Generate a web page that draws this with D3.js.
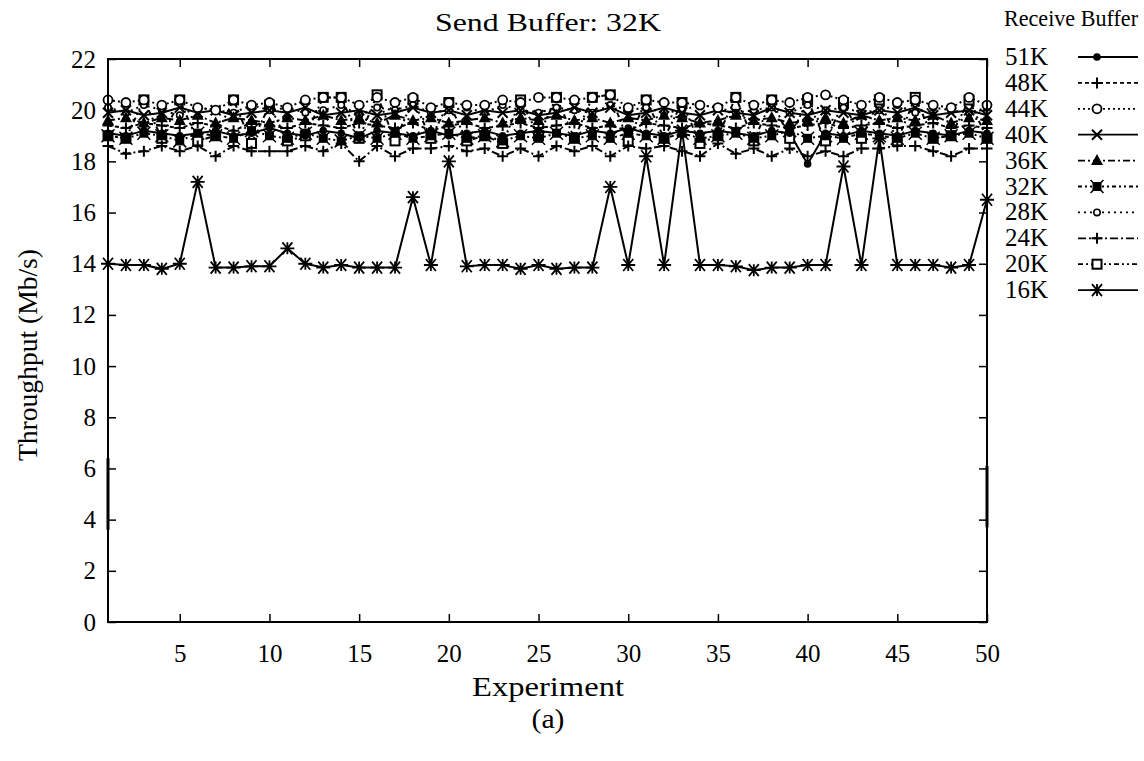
<!DOCTYPE html>
<html>
<head>
<meta charset="utf-8" />
<title>Send Buffer: 32K</title>
<script src="https://cdn.jsdelivr.net/npm/d3@7/dist/d3.min.js"></script>
<style>
    body { margin: 0; background: #fff; }
    svg text { font-family: "Liberation Serif", "DejaVu Serif", serif; fill: #000; }
    .axis path { display: none; }
    .axis line { stroke: #000; stroke-width: 1.5px; }
</style>
</head>
<body>
<div id="chart"></div>
<script>
// 数据
const experiments = [1,2,3,4,5,6,7,8,9,10,11,12,13,14,15,16,17,18,19,20,21,22,23,24,25,
                     26,27,28,29,30,31,32,33,34,35,36,37,38,39,40,41,42,43,44,45,46,47,48,49,50];
const xTicks = [5,10,15,20,25,30,35,40,45,50];
const yTicks = [0,2,4,6,8,10,12,14,16,18,20,22];
const bufferNames = ["51K","48K","44K","40K","36K","32K","28K","24K","20K","16K"];

const buf51 = [19.1,19.0,19.2,19.1,19.0,19.1,19.2,19.0,19.1,19.3,19.1,19.0,19.2,19.1,18.9,19.2,19.1,19.0,19.2,19.0,
               19.1,19.2,19.0,19.1,19.2,19.1,19.0,19.2,19.1,19.3,19.1,19.0,19.2,19.1,19.2,19.1,19.0,19.2,19.1,17.9,
               19.1,19.0,19.2,19.1,19.0,19.2,19.1,19.0,19.2,19.1];
const buf48 = [19.4,19.3,19.5,19.4,19.3,19.5,19.4,19.2,19.5,19.4,19.3,19.5,19.4,19.3,19.5,19.4,19.3,19.5,19.2,19.4,
               19.5,19.3,19.4,19.5,19.3,19.4,19.5,19.3,19.4,19.2,19.5,19.4,19.3,19.5,19.4,19.3,19.5,19.4,19.3,19.4,
               19.5,19.3,19.4,19.5,19.3,19.4,19.5,19.3,19.4,19.3];
const buf44 = [20.4,20.3,20.4,20.2,20.4,20.1,20.0,20.4,20.2,20.3,20.1,20.4,20.5,20.5,20.2,20.5,20.3,20.5,20.1,20.3,
               20.2,20.2,20.4,20.3,20.5,20.5,20.4,20.5,20.6,20.1,20.4,20.3,20.3,20.2,20.1,20.5,20.2,20.4,20.3,20.5,
               20.6,20.4,20.2,20.5,20.3,20.4,20.2,20.1,20.5,20.2];
const buf40 = [19.9,20.0,19.8,19.9,20.1,19.9,20.0,19.8,19.9,20.0,19.9,20.1,19.8,19.9,20.0,19.8,19.9,20.1,19.9,20.0,
               19.8,20.0,19.9,20.0,19.8,19.9,20.1,19.9,20.1,19.8,19.9,20.1,19.9,19.8,20.0,19.9,19.8,20.1,19.9,19.8,
               20.0,19.9,19.8,20.0,19.9,20.1,19.8,19.9,20.0,19.8];
const buf36 = [19.6,19.7,19.5,19.7,19.6,19.8,19.5,19.7,19.6,19.5,19.7,19.6,19.8,19.6,19.7,19.5,19.8,19.6,19.7,19.5,
               19.6,19.7,19.5,19.7,19.6,19.8,19.6,19.7,19.5,19.7,19.6,19.8,19.7,19.5,19.6,19.8,19.6,19.7,19.5,19.6,
               19.7,19.5,19.8,19.6,19.7,19.6,19.8,19.5,19.7,19.6];
const buf32 = [19.0,18.9,19.1,19.0,18.8,19.1,19.0,18.9,19.2,19.0,18.9,19.1,18.9,18.8,19.0,18.9,19.1,18.9,19.0,19.1,
               18.9,19.0,18.8,19.0,18.9,19.1,18.9,19.0,18.9,19.1,19.0,18.9,19.1,18.9,19.0,19.1,18.9,19.0,19.2,18.9,
               19.0,18.9,19.1,19.0,18.9,19.1,18.9,19.0,19.1,18.9];
const buf28 = [20.1,19.9,20.2,20.0,19.8,20.1,20.0,19.9,20.2,20.0,20.1,19.9,20.0,20.2,19.8,20.1,20.0,20.2,19.9,20.0,
               20.1,19.9,20.2,20.0,19.9,20.1,20.0,19.9,20.2,20.0,20.1,19.9,20.0,20.2,20.1,19.9,20.0,20.1,19.9,20.2,
               20.0,20.1,19.9,20.0,20.2,19.9,20.1,20.0,19.9,20.1];
const buf24 = [18.6,18.3,18.4,18.6,18.4,18.6,18.2,18.6,18.4,18.4,18.4,18.6,18.4,18.7,18.0,18.6,18.2,18.5,18.5,18.6,
               18.4,18.5,18.2,18.5,18.2,18.6,18.4,18.6,18.2,18.6,18.5,18.6,18.4,18.2,18.7,18.3,18.5,18.2,18.5,18.2,
               18.4,18.2,18.5,18.5,18.6,18.6,18.4,18.2,18.5,18.5];
const buf20 = [19.0,18.9,20.4,18.9,20.4,18.8,19.0,20.4,18.7,20.2,18.8,19.0,20.5,20.5,18.9,20.6,18.8,20.4,18.9,20.3,
               18.8,19.0,18.7,20.4,19.0,20.5,18.9,20.5,20.6,18.8,20.4,18.9,20.3,18.7,19.0,20.5,18.8,20.4,18.9,20.4,
               18.8,20.3,18.9,20.4,18.8,20.5,18.9,19.0,20.4,18.9];
const buf16 = [14.0,13.95,13.95,13.8,14.0,17.2,13.85,13.85,13.9,13.9,14.6,14.0,13.85,13.95,13.85,13.85,13.85,16.6,13.95,18.0,
               13.9,13.95,13.95,13.8,13.95,13.8,13.85,13.85,17.0,13.95,18.2,13.95,19.2,13.95,13.95,13.9,13.75,13.85,13.85,13.95,
               13.95,17.8,13.95,18.9,13.95,13.95,13.95,13.85,13.95,16.5];

// 左右边框上的短竖线
const edgeX = [1, 50];
const edgeLow = [3.6, 3.7];
const edgeHigh = [6.4, 6.1];

const seriesValues = [buf51, buf48, buf44, buf40, buf36, buf32, buf28, buf24, buf20, buf16];

// 线型和点型
const dashes = ["", "4,3", "2,3", "", "7,3,2,3", "4,3,2,3,2,3", "2,4", "8,3,2,3", "5,3,2,3,2,3", ""];
const markers = ["dot", "plus", "ocircle", "cross", "tri", "star", "scircle", "plus", "osquare", "asterisk"];

const W = 1144, H = 761;
const svg = d3.select("#chart").append("svg").attr("width", W).attr("height", H);

const x = d3.scaleLinear().domain([1, 50]).range([108, 987]);
const y = d3.scaleLinear().domain([0, 22]).range([622, 59]);

// 坐标轴（刻度朝内，四边都有）
const fontSize = "25px";
const gx = svg.append("g").attr("class", "axis").attr("transform", "translate(0,622)")
    .call(d3.axisBottom(x).tickValues(xTicks).tickSize(-8).tickPadding(22));
gx.selectAll("text").style("font-size", fontSize);
svg.append("g").attr("class", "axis").attr("transform", "translate(0,59)")
    .call(d3.axisTop(x).tickValues(xTicks).tickSize(-8).tickFormat(""));
const gy = svg.append("g").attr("class", "axis").attr("transform", "translate(108,0)")
    .call(d3.axisLeft(y).tickValues(yTicks).tickSize(-8).tickPadding(12));
gy.selectAll("text").style("font-size", fontSize);
svg.append("g").attr("class", "axis").attr("transform", "translate(987,0)")
    .call(d3.axisRight(y).tickValues(yTicks).tickSize(-8).tickFormat(""));

function drawMarker(g, type, cx, cy) {
    const m = g.append("g").attr("transform", "translate(" + cx + "," + cy + ")");
    if (type === "dot") {
        m.append("circle").attr("r", 3.8).attr("fill", "#000");
    } else if (type === "plus") {
        m.append("path").attr("d", "M-5.5,0H5.5M0,-5.5V5.5").attr("stroke", "#000").attr("stroke-width", 2);
    } else if (type === "ocircle") {
        m.append("circle").attr("r", 4.5).attr("fill", "#fff").attr("stroke", "#000").attr("stroke-width", 1.8);
    } else if (type === "cross") {
        m.append("path").attr("d", "M-5,-5L5,5M-5,5L5,-5").attr("stroke", "#000").attr("stroke-width", 2);
    } else if (type === "tri") {
        m.append("path").attr("d", "M0,-6.5L6,4.5L-6,4.5Z").attr("fill", "#000");
    } else if (type === "star") {
        m.append("rect").attr("x", -4.5).attr("y", -4.5).attr("width", 9).attr("height", 9).attr("fill", "#000");
        m.append("path").attr("d", "M-6.5,-6.5L6.5,6.5M-6.5,6.5L6.5,-6.5").attr("stroke", "#000").attr("stroke-width", 1.5);
    } else if (type === "scircle") {
        m.append("circle").attr("r", 3.2).attr("fill", "#fff").attr("stroke", "#000").attr("stroke-width", 1.6);
    } else if (type === "osquare") {
        m.append("rect").attr("x", -4.5).attr("y", -4.5).attr("width", 9).attr("height", 9)
            .attr("fill", "#fff").attr("stroke", "#000").attr("stroke-width", 2);
    } else if (type === "asterisk") {
        m.append("path").attr("d", "M-5,-6L5,6M-5,6L5,-6M-7,0H7M0,-6V6")
            .attr("stroke", "#000").attr("stroke-width", 1.8);
    }
}

const line = d3.line().x((d, i) => x(experiments[i])).y(d => y(d));

// 画曲线（从下往上画，16K 在最后）
for (let s = seriesValues.length - 1; s >= 0; s--) {
    svg.append("path")
        .datum(seriesValues[s])
        .attr("d", line)
        .attr("fill", "none")
        .attr("stroke", "#000")
        .attr("stroke-width", 2)
        .attr("stroke-dasharray", dashes[s]);
}
for (let s = seriesValues.length - 1; s >= 0; s--) {
    const g = svg.append("g");
    seriesValues[s].forEach((v, i) => drawMarker(g, markers[s], x(experiments[i]), y(v)));
}

// 边框上的短线
edgeX.forEach((e, i) => {
    svg.append("line")
        .attr("x1", x(e)).attr("x2", x(e))
        .attr("y1", y(edgeLow[i])).attr("y2", y(edgeHigh[i]))
        .attr("stroke", "#000").attr("stroke-width", 3);
});

// 边框
svg.append("rect")
    .attr("x", 108).attr("y", 59).attr("width", 987 - 108).attr("height", 622 - 59)
    .attr("fill", "none").attr("stroke", "#000").attr("stroke-width", 2);

// 标题和轴标签（参考图字体偏宽，用 textLength 拉伸）
function label(xp, yp, txt, size, len, anchor) {
    return svg.append("text").attr("x", xp).attr("y", yp)
        .attr("text-anchor", anchor || "middle")
        .attr("textLength", len).attr("lengthAdjust", "spacingAndGlyphs")
        .style("font-size", size).text(txt);
}
label(548, 31, "Send Buffer: 32K", "26px", 226);
label(548, 696, "Experiment", "27px", 152);
label(548, 728, "(a)", "27px", 33);
svg.append("g").attr("transform", "translate(37,355) rotate(-90)")
    .append("text").attr("text-anchor", "middle")
    .attr("textLength", 212).attr("lengthAdjust", "spacingAndGlyphs")
    .style("font-size", "27px").text("Throughput (Mb/s)");

// 图例
label(1071, 26, "Receive Buffer", "23px", 134);
bufferNames.forEach((name, i) => {
    const ly = 57 + i * 25.9;
    svg.append("text").attr("x", 1048).attr("y", ly + 8).attr("text-anchor", "end")
        .style("font-size", "25px").text(name);
    svg.append("line").attr("x1", 1078).attr("x2", 1138).attr("y1", ly).attr("y2", ly)
        .attr("stroke", "#000").attr("stroke-width", 1.8).attr("stroke-dasharray", dashes[i]);
    drawMarker(svg, markers[i], 1097, ly);
});
</script>
</body>
</html>
